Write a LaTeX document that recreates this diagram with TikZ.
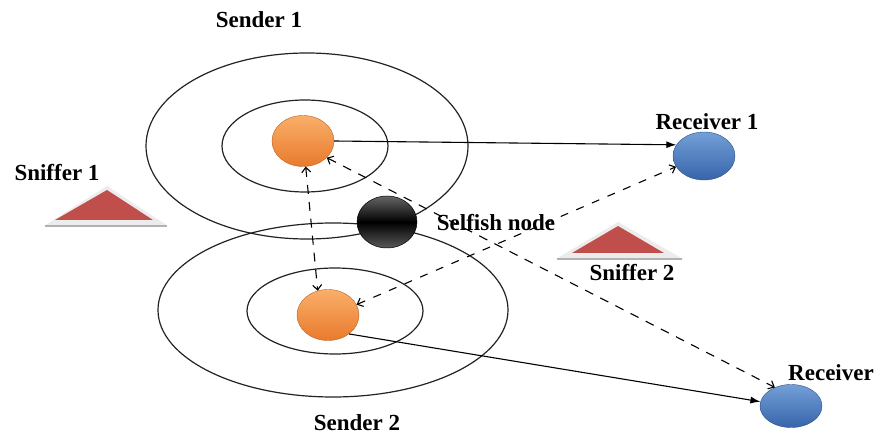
\documentclass[tikz,border=0pt]{standalone}
\usepackage{fontspec}
\setmainfont{Liberation Serif}
\usetikzlibrary{shapes.geometric,arrows.meta}

\definecolor{orangeTop}{RGB}{250,175,105}
\definecolor{orangeBot}{RGB}{232,122,45}
\definecolor{blueTop}{RGB}{115,160,215}
\definecolor{blueBot}{RGB}{55,100,170}
\definecolor{snifferRed}{RGB}{192,78,74}
\definecolor{ringGray}{RGB}{35,35,35}

\tikzset{
  ring/.style={draw=ringGray, line width=1.2pt},
  sender/.style={ellipse, minimum width=62pt, minimum height=51pt, inner sep=0pt,
    top color=orangeTop, bottom color=orangeBot, draw=orangeBot!80!black, line width=0.4pt},
  receiver/.style={ellipse, inner sep=0pt,
    top color=blueTop, bottom color=blueBot, draw=blueBot!80!black, line width=0.4pt},
  selfish/.style={ellipse, minimum width=60pt, minimum height=52pt, inner sep=0pt,
    top color=gray!80!black, bottom color=gray!70!black, middle color=black,
    draw=black, line width=0.5pt},
  label/.style={font=\fontsize{23}{26}\selectfont\bfseries, inner sep=0pt},
  solidlink/.style={draw=black, line width=1.1pt, -{Latex[length=10pt,width=7pt]}},
  dashlink/.style={draw=black, line width=1.1pt, dash pattern=on 9pt off 8pt,
    {Straight Barb[length=5pt,width=9pt]}-{Straight Barb[length=5pt,width=9pt]}},
  dashlinkshort/.style={draw=black, line width=1.1pt, dash pattern=on 8pt off 9pt,
    {Straight Barb[length=5pt,width=9pt]}-{Straight Barb[length=5pt,width=9pt]}},
}

\begin{document}
\begin{tikzpicture}[x=1pt, y=-1pt]
  \useasboundingbox (0,0) rectangle (877,435);
  \fill[white] (0,0) rectangle (877,435);

  % transmission ranges of the two senders
  \draw[ring] (307,146) ellipse [x radius=161, y radius=93];
  \draw[ring] (305,146) ellipse [x radius=83, y radius=46];
  \draw[ring] (333,310) ellipse [x radius=175, y radius=87];
  \draw[ring] (335,311) ellipse [x radius=88, y radius=43];

  % sniffers
  \fill[gray!15] (107,186) -- (168,226) -- (44,226) -- cycle;
  \fill[snifferRed] (107,190) -- (153,220) -- (55,220) -- cycle;
  \draw[gray!60, line width=2.5pt] (45,226) -- (167,226);

  \fill[gray!15] (618,222) -- (683,259) -- (556,259) -- cycle;
  \fill[snifferRed] (618,226) -- (664,253) -- (572,253) -- cycle;
  \draw[gray!60, line width=2.5pt] (557,259) -- (682,259);

  % nodes
  \node[sender] (s1) at (303,141) {};
  \node[sender] (s2) at (328,315) {};
  \node[selfish] (sf) at (387,222) {};
  \node[receiver, minimum width=62pt, minimum height=48pt] (r1) at (704,156) {};
  \node[receiver, minimum width=62pt, minimum height=43pt] (r2) at (791,406) {};

  % labels
  \node[label] (l1) at (259,20) {Sender 1};
  \node[label] (l2) at (357,423) {Sender 2};
  \node[label] (l3) at (707,122) {Receiver 1};
  \node[label] (l4) at (831,373) {Receiver};
  \node[label] (l5) at (57,173) {Sniffer 1};
  \node[label] (l6) at (632,273) {Sniffer 2};
  \node[label] (l7) at (496,223) {Selfish node};

  % links
  \draw[solidlink] (s1.east) -- (r1.158);
  \draw[solidlink] (s2.-42) -- (r2.172);
  \draw[dashlink] (s1.-84) -- (s2.113);
  \draw[dashlink] (s1.-35) -- (r2.131);
  \draw[dashlinkshort] (s2.20) -- (r1.-159);
\end{tikzpicture}
\end{document}
